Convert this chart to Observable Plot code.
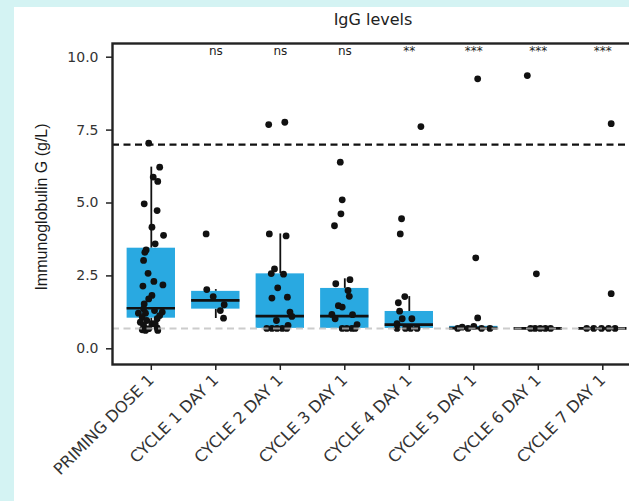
<!DOCTYPE html>
<html><head><meta charset="utf-8">
<script src="https://cdn.jsdelivr.net/npm/d3@7"></script>
<script src="https://cdn.jsdelivr.net/npm/@observablehq/plot@0.6"></script>
<style>
html,body{margin:0;padding:0;width:629px;height:501px;overflow:hidden;background:#d4f3f3;}
#panel{position:absolute;left:14px;top:7px;width:720px;height:600px;background:#fff;}
#title{position:absolute;left:0;top:11px;width:746px;text-align:center;font-family:"DejaVu Sans",sans-serif;font-size:16px;line-height:18px;color:#222;}
#chart{position:absolute;left:0;top:0;width:720px;height:501px;}
#chart svg{max-width:none !important;}
</style></head><body>
<div id="panel"></div>
<div id="chart"></div>
<div id="title">IgG levels</div>
<script>
const categories = ["PRIMING DOSE 1","CYCLE 1 DAY 1","CYCLE 2 DAY 1","CYCLE 3 DAY 1","CYCLE 4 DAY 1","CYCLE 5 DAY 1","CYCLE 6 DAY 1","CYCLE 7 DAY 1"];
const significance = ["","ns","ns","ns","**","***","***","***"];
const yTicks = [0, 2.5, 5, 7.5, 10];
const upperLimit = 7.0;
const lowerLimit = 0.7;

// box summaries
const boxQ1     = [1.05, 1.36, 0.70, 0.70, 0.70, 0.70, 0.70, 0.70];
const boxMedian = [1.39, 1.66, 1.12, 1.12, 0.83, 0.71, 0.70, 0.70];
const boxQ3     = [3.45, 1.97, 2.57, 2.07, 1.28, 0.77, 0.70, 0.70];
const whiskerLow  = [0.63, 1.04, 0.70, 0.70, 0.70, 0.70, 0.70, 0.70];
const whiskerHigh = [6.23, 2.03, 3.94, 2.40, 1.79, 0.77, 0.70, 0.70];

// individual values and their horizontal jitter (category units)
const primingDose1 = [7.05,6.23,5.89,5.74,4.97,4.74,4.17,3.89,3.60,3.39,3.31,3.03,2.59,2.31,2.19,2.15,1.83,1.71,1.54,1.37,1.22,1.22,1.31,1.26,1.08,1.14,1.03,0.91,0.97,0.80,0.86,0.65,0.69,0.72,0.86,0.63,0.63];
const primingDose1Jitter = [-0.04,0.13,0.03,0.10,-0.11,0.09,0.01,0.19,0.06,-0.08,-0.10,-0.12,-0.05,0.04,0.18,-0.13,0.01,-0.04,-0.11,-0.12,-0.20,-0.09,0.05,0.17,-0.14,0.13,0.09,-0.17,-0.07,-0.12,0.01,-0.14,-0.04,0.09,0.06,-0.09,0.10];
const cycle1 = [3.94,2.03,1.79,1.51,1.31,1.05];
const cycle1Jitter = [-0.15,-0.14,-0.04,0.13,0.07,0.12];
const cycle2 = [7.69,7.77,3.94,3.87,2.58,2.74,2.56,2.09,1.74,1.77,1.26,1.11,0.97,0.80,0.70,0.70,0.70,0.70,0.70];
const cycle2Jitter = [-0.18,0.07,-0.17,0.09,-0.14,-0.09,0.05,-0.04,-0.13,0.11,0.15,0.18,-0.06,0.12,-0.21,-0.13,-0.05,0.03,0.10];
const cycle3 = [6.40,5.11,4.63,4.22,2.37,2.23,2.00,1.80,1.48,1.43,1.18,1.17,1.03,0.83,0.70,0.70,0.70,0.70];
const cycle3Jitter = [-0.07,-0.04,-0.06,-0.16,0.08,-0.14,0.05,0.07,-0.10,-0.04,-0.20,0.12,-0.15,0.19,-0.04,0.03,0.11,0.16];
const cycle4 = [7.62,4.46,3.94,1.79,1.58,1.29,1.03,1.03,0.86,0.70,0.70,0.70,0.70];
const cycle4Jitter = [0.18,-0.12,-0.14,-0.07,-0.17,-0.15,0.04,-0.11,-0.19,-0.19,-0.06,0.02,0.12];
const cycle5 = [9.26,3.12,1.06,0.77,0.74,0.70,0.70,0.70,0.70];
const cycle5Jitter = [0.06,0.03,0.06,0.00,-0.18,-0.25,-0.09,0.12,0.25];
const cycle6 = [9.37,2.57,0.70,0.70,0.70,0.70,0.70];
const cycle6Jitter = [-0.17,-0.03,-0.12,-0.05,0.03,0.11,0.19];
const cycle7 = [7.72,1.89,0.70,0.70,0.70,0.70,0.70];
const cycle7Jitter = [0.13,0.13,-0.25,-0.14,-0.02,0.09,0.19];

const groups = [
  [primingDose1, primingDose1Jitter],[cycle1, cycle1Jitter],[cycle2, cycle2Jitter],[cycle3, cycle3Jitter],
  [cycle4, cycle4Jitter],[cycle5, cycle5Jitter],[cycle6, cycle6Jitter],[cycle7, cycle7Jitter]
];
const points = [];
groups.forEach(([vals, jit], i) => vals.forEach((v, k) => points.push({i, v, j: jit[k]})));
const boxes = categories.map((c, i) => ({i, q1: boxQ1[i], med: boxMedian[i], q3: boxQ3[i], lo: whiskerLow[i], hi: whiskerHigh[i]}));
const sigs = significance.map((s, i) => ({i, s})).filter(d => d.s);
const half = 0.375;
const step = 64.5, left = 112, first = 150.8;
const x0 = (left - first) / step;

const chart = Plot.plot({
  width: 720, height: 501,
  marginLeft: left, marginRight: 720 - (left + 8.2 * step), marginTop: 43, marginBottom: 501 - 364,
  style: {fontFamily: "'DejaVu Sans', sans-serif", fontSize: "14px", color: "#333", background: "transparent", overflow: "visible", maxWidth: "none"},
  x: {type: "linear", domain: [x0, x0 + 8.2], range: [left, left + 8.2 * step]},
  y: {domain: [0, 10], range: [348.3, 56.7]},
  marks: [
    Plot.ruleY([upperLimit], {stroke: "#111", strokeWidth: 2.2, strokeDasharray: "7,4.5"}),
    Plot.ruleX(boxes, {x: "i", y1: "q3", y2: "hi", stroke: "#111", strokeWidth: 1.8}),
    Plot.ruleX(boxes, {x: "i", y1: "lo", y2: "q1", stroke: "#111", strokeWidth: 1.8}),
    Plot.rectY(boxes, {x1: d => d.i - half, x2: d => d.i + half, y1: "q1", y2: "q3", fill: "#29a9e1"}),
    Plot.ruleY(boxes, {y: "med", x1: d => d.i - half, x2: d => d.i + half, stroke: "#111", strokeWidth: 2.6}),
    Plot.dot(points, {x: d => d.i + d.j, y: "v", r: 3.4, fill: "#111", stroke: "none"}),
    Plot.ruleY([lowerLimit], {stroke: "#bbbbbb", strokeOpacity: 0.75, strokeWidth: 2, strokeDasharray: "7,4.5"}),
    Plot.text(sigs, {x: "i", y: () => 10.22, text: "s", fontSize: 12, fill: "#222"}),
    Plot.frame({stroke: "#222", strokeWidth: 2.4}),
    Plot.axisY({ticks: yTicks, tickFormat: d => d.toFixed(1), tickSize: 6, tickPadding: 8, stroke: "#222", strokeWidth: 1.5, fill: "#333", fontSize: 14, label: null}),
    Plot.text(["Immunoglobulin G (g/L)"], {frameAnchor: "left", textAnchor: "middle", rotate: -90, dx: -71, dy: 3, fontSize: 16, fill: "#1a1a1a", fontFamily: "'Liberation Sans', Arial, sans-serif"}),
    Plot.axisX({ticks: d3.range(categories.length), tickFormat: i => categories[i], tickRotate: -45, tickSize: 6, tickPadding: 7, stroke: "#222", strokeWidth: 1.5, fill: "#333", fontSize: 16, label: null})
  ]
});
document.getElementById("chart").appendChild(chart);
</script>
</body></html>
